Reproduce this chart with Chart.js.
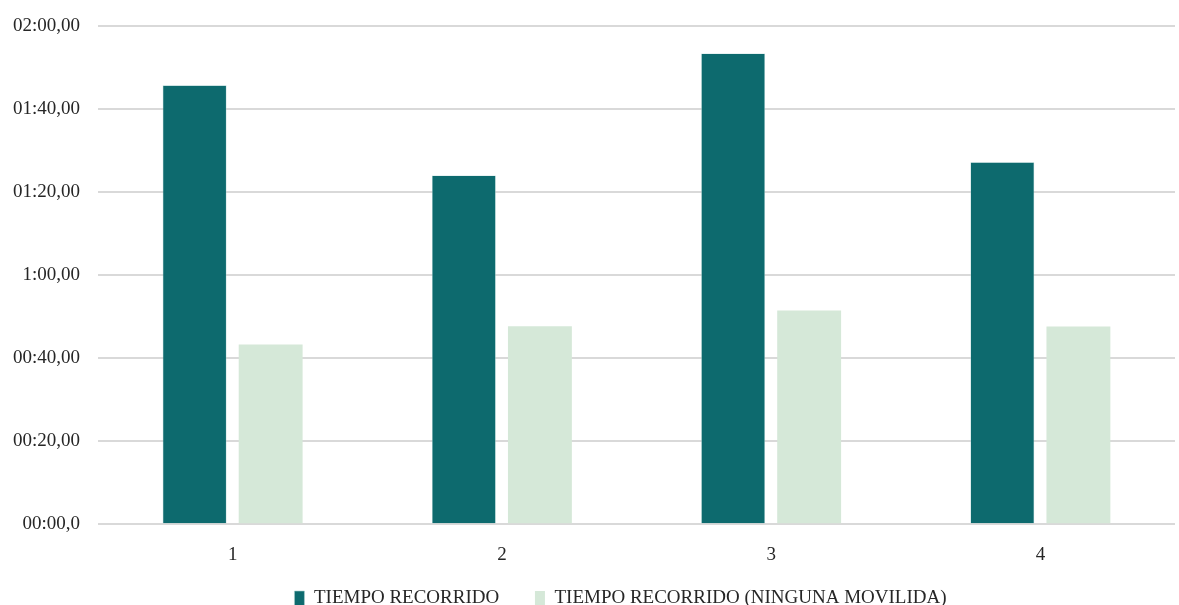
<!DOCTYPE html>
<html>
<head>
<meta charset="utf-8">
<script src="https://cdn.jsdelivr.net/npm/chart.js@4/dist/chart.umd.min.js"></script>
<style>
  html, body { margin: 0; padding: 0; background: #fff; }
  #wrap { width: 1179px; height: 605px; }
</style>
</head>
<body>
<div id="wrap"><canvas id="chart"></canvas></div>
<script>
// --- DATA ---
const categories = ["1", "2", "3", "4"];
const seriesNames = ["TIEMPO RECORRIDO", "TIEMPO RECORRIDO (NINGUNA MOVILIDA)"];
// seconds
const tiempoRecorrido = [105.7, 84.0, 113.4, 87.2];
const tiempoNinguna = [43.3, 47.7, 51.5, 47.6];
const tickLabels = ["00:00,0", "00:20,00", "00:40,00", "1:00,00", "01:20,00", "01:40,00", "02:00,00"];

const font = { family: "'Liberation Serif', 'Times New Roman', serif", size: 19 };

// nudge the legend to the right so it sits under the plot
const legendShift = {
  id: "legendShift",
  afterLayout(chart) {
    if (chart.legend) chart.legend.left += 62;
  },
};

new Chart(document.getElementById("chart"), {
  type: "bar",
  data: {
    labels: categories,
    datasets: [
      {
        label: seriesNames[0],
        data: tiempoRecorrido,
        backgroundColor: "#0d6a6e",
        borderColor: "#a9d0cf",
        borderWidth: 0.6,
      },
      {
        label: seriesNames[1],
        data: tiempoNinguna,
        backgroundColor: "#d5e8d8",
      },
    ],
  },
  options: {
    responsive: true,
    maintainAspectRatio: false,
    animation: false,
    categoryPercentage: 0.565,
    barPercentage: 0.84,
    layout: { padding: { top: 26, right: 4, left: 4, bottom: -13 } },
    scales: {
      x: {
        grid: { display: false },
        border: { display: false },
        ticks: { color: "#262626", font: font, padding: 11 },
      },
      y: {
        min: 0,
        max: 120,
        border: { display: false },
        grid: { color: "#d9d9d9", lineWidth: 2, drawTicks: false },
        ticks: {
          stepSize: 20,
          color: "#262626",
          font: font,
          padding: 18,
          callback: (value) => tickLabels[Math.round(value / 20)],
        },
        // fixed axis width; top spacing comes from layout padding only
        afterFit: (axis) => {
          axis.width = 94;
          axis.paddingTop = 0;
          axis.paddingBottom = 0;
        },
      },
    },
    plugins: {
      legend: {
        position: "bottom",
        labels: {
          color: "#262626",
          font: font,
          boxWidth: 10,
          boxHeight: 15,
          padding: 12,
          // wider gap between the two entries
          generateLabels: (chart) =>
            Chart.defaults.plugins.legend.labels
              .generateLabels(chart)
              .map((item, i) => ({ ...item, text: i === 0 ? item.text + "     " : item.text })),
        },
      },
      tooltip: { enabled: false },
    },
  },
  plugins: [legendShift],
});
</script>
</body>
</html>
